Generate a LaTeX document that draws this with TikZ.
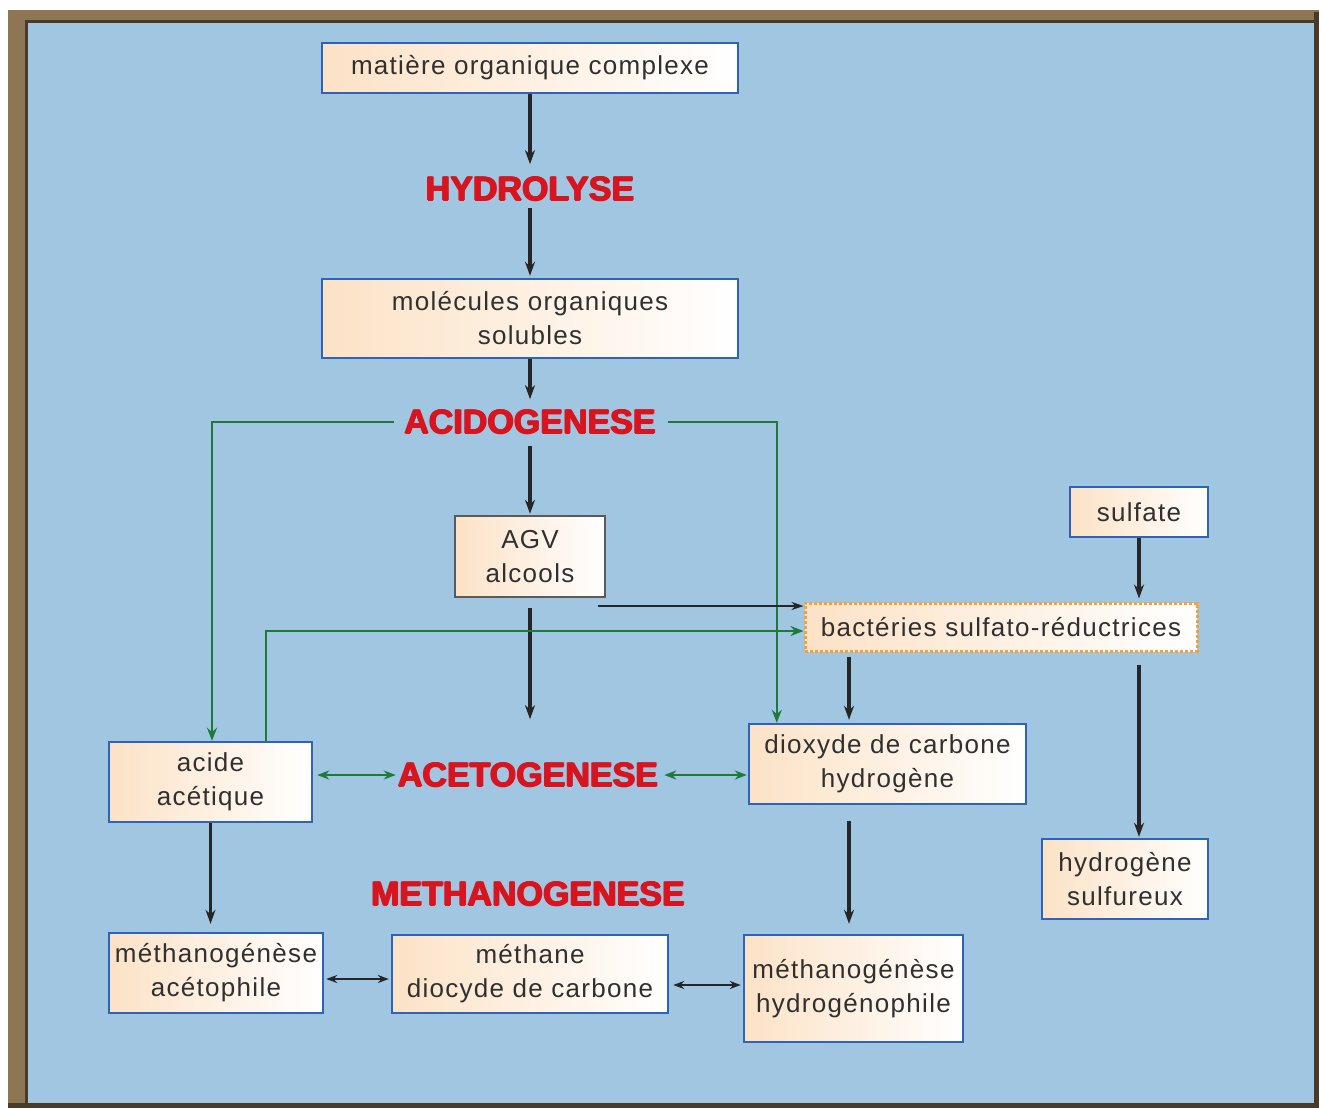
\documentclass[tikz,border=0pt]{standalone}
\usepackage{fontspec}
\setmainfont{Liberation Sans}
\newfontfamily\boxfont{Liberation Sans}[LetterSpace=5]
\newfontfamily\stagefont{Liberation Sans}
\usetikzlibrary{arrows.meta}

% heavy heading: the bold text is overprinted with small offsets
\newcommand\heavytext[1]{\leavevmode
  \rlap{\kern-0.8pt #1}\rlap{\kern0.8pt #1}%
  \rlap{\raisebox{0.6pt}{#1}}\rlap{\raisebox{-0.6pt}{#1}}#1}

\definecolor{sky}{HTML}{A0C6E1}
\definecolor{framebrown}{HTML}{8E7654}
\definecolor{framedark}{HTML}{4A3A2A}
\definecolor{peach}{HTML}{FCE2C6}
\definecolor{boxblue}{HTML}{2F63B8}
\definecolor{agvgray}{HTML}{5A5A5A}
\definecolor{dotorange}{HTML}{F2A23A}
\definecolor{stagered}{HTML}{D8141E}
\definecolor{pathgreen}{HTML}{1F7A3A}
\definecolor{txt}{HTML}{303030}

\tikzset{
  box/.style={draw=boxblue, line width=2.4pt, left color=peach, right color=white,
    inner sep=0pt, align=center, text=txt,
    font=\boxfont\fontsize{26}{34}\selectfont},
  stage/.style={inner sep=0pt, text=stagered,
    font=\stagefont\bfseries\fontsize{34}{40}\selectfont},
  flow/.style={draw=black!85, line width=3.5pt, -{Stealth[length=14pt,width=10pt]}},
  thinflow/.style={draw=black!85, line width=2pt, -{Stealth[length=12pt,width=8pt]}},
  thindbl/.style={draw=black!85, line width=2pt,
    {Stealth[length=11pt,width=8pt]}-{Stealth[length=11pt,width=8pt]}},
  gflow/.style={draw=pathgreen, line width=2pt, -{Stealth[length=13pt,width=10pt]}},
  gdbl/.style={draw=pathgreen, line width=2pt,
    {Stealth[length=12pt,width=9pt]}-{Stealth[length=12pt,width=9pt]}}
}

\begin{document}
\begin{tikzpicture}[x=1pt,y=-1pt]
\useasboundingbox (0,0) rectangle (1319,1108);
% page and frame
\fill[white] (0,0) rectangle (1319,1108);
\fill[framebrown] (8,10) rectangle (1319,1108);
\fill[sky] (28,21) rectangle (1314,1103);
\draw[framedark, line width=3pt] (26.5,1103) -- (26.5,21.5) -- (1314,21.5);
\fill[framedark] (1314,12) rectangle (1319,1108);
\fill[framedark] (8,1103) rectangle (1319,1108);

% boxes and stage labels
\node[box, minimum width=416pt, minimum height=50pt] (mat) at (530,68) {matière organique complexe};
\node[stage] (hyd) at (530,189) {\heavytext{HYDROLYSE}};
\node[box, minimum width=416pt, minimum height=79pt] (mol) at (530,318.5) {molécules organiques\\solubles};
\node[stage] (acid) at (530,422) {\heavytext{ACIDOGENESE}};
\node[box, draw=agvgray, minimum width=150pt, minimum height=81pt] (agv) at (530,556.5) {AGV\\alcools};
\node[box, minimum width=138pt, minimum height=50pt] (sulf) at (1139,512) {sulfate};
\node[box, draw=dotorange, line width=3pt, dash pattern=on 3pt off 2pt,
      minimum width=392pt, minimum height=48pt] (bact) at (1001,627) {bactéries sulfato-réductrices};
\node[box, minimum width=203pt, minimum height=80pt] (acide) at (210.5,782) {acide\\acétique};
\node[stage] (acet) at (528,775) {\heavytext{ACETOGENESE}};
\node[box, minimum width=277pt, minimum height=80pt] (diox) at (887.5,764) {dioxyde de carbone\\hydrogène};
\node[box, minimum width=166pt, minimum height=80pt] (h2s) at (1125,879) {hydrogène\\sulfureux};
\node[stage] (meth) at (528,894) {\heavytext{METHANOGENESE}};
\node[box, minimum width=214pt, minimum height=80pt] (meta) at (216,973) {méthanogénèse\\acétophile};
\node[box, minimum width=276pt, minimum height=78pt] (mdc) at (530,974) {méthane\\diocyde de carbone};
\node[box, minimum width=219pt, minimum height=107pt] (meh) at (853.5,988.5) {méthanogénèse\\hydrogénophile};

% main degradation chain
\draw[flow, shorten >=12pt] (mat.south) -- (hyd.north);
\draw[flow, shorten <=6pt, shorten >=2pt] (hyd.south) -- (mol.north);
\draw[flow, shorten >=10pt] (mol.south) -- (acid.north);
\draw[flow, shorten <=11pt, shorten >=1pt] (acid.south) -- (agv.north);
\draw[flow, shorten <=10pt, shorten >=43pt] (agv.south) -- (agv.south |- acet.north);

% acidogenesis side products
\draw[gflow] ([xshift=-10pt]acid.west) -| ([xshift=1.5pt]acide.north);
\draw[gflow] ([xshift=12pt]acid.east) -| ([xshift=29pt]diox.north west);
\draw[gflow] ([xshift=158pt]acide.north west) |- ([yshift=-4pt]bact.west);

% sulfate reduction
\coordinate (agvtap) at (598,606);
\draw[thinflow] (agvtap) -- (agvtap -| bact.west);
\draw[flow, shorten >=3pt] (sulf.south) -- (sulf.south |- bact.north);
\draw[flow, shorten <=4pt, shorten >=3pt] ([xshift=-152pt]bact.south) -- ([xshift=-152pt]bact.south |- diox.north);
\draw[flow, shorten <=12pt, shorten >=1pt] ([xshift=138pt]bact.south) -- ([xshift=138pt]bact.south |- h2s.north);

% acetogenesis
\draw[gdbl, shorten <=4pt, shorten >=2pt] (acide.east |- acet.west) -- (acet.west);
\draw[gdbl, shorten <=6pt, shorten >=1pt] (acet.east) -- (acet.east -| diox.west);

% methanogenesis
\draw[flow, shorten >=8pt] (acide.south) -- (acide.south |- meta.north);
\draw[flow, shorten <=16pt, shorten >=10pt] ([xshift=-38.5pt]diox.south) -- ([xshift=-38.5pt]diox.south |- meh.north);
\draw[thindbl, shorten <=2pt, shorten >=2pt] ([yshift=-6pt]meta.east) -- ([yshift=-6pt]meta.east -| mdc.west);
\draw[thindbl, shorten <=4pt, shorten >=2pt] ([yshift=-11pt]mdc.east) -- ([yshift=-11pt]mdc.east -| meh.west);
\end{tikzpicture}
\end{document}
